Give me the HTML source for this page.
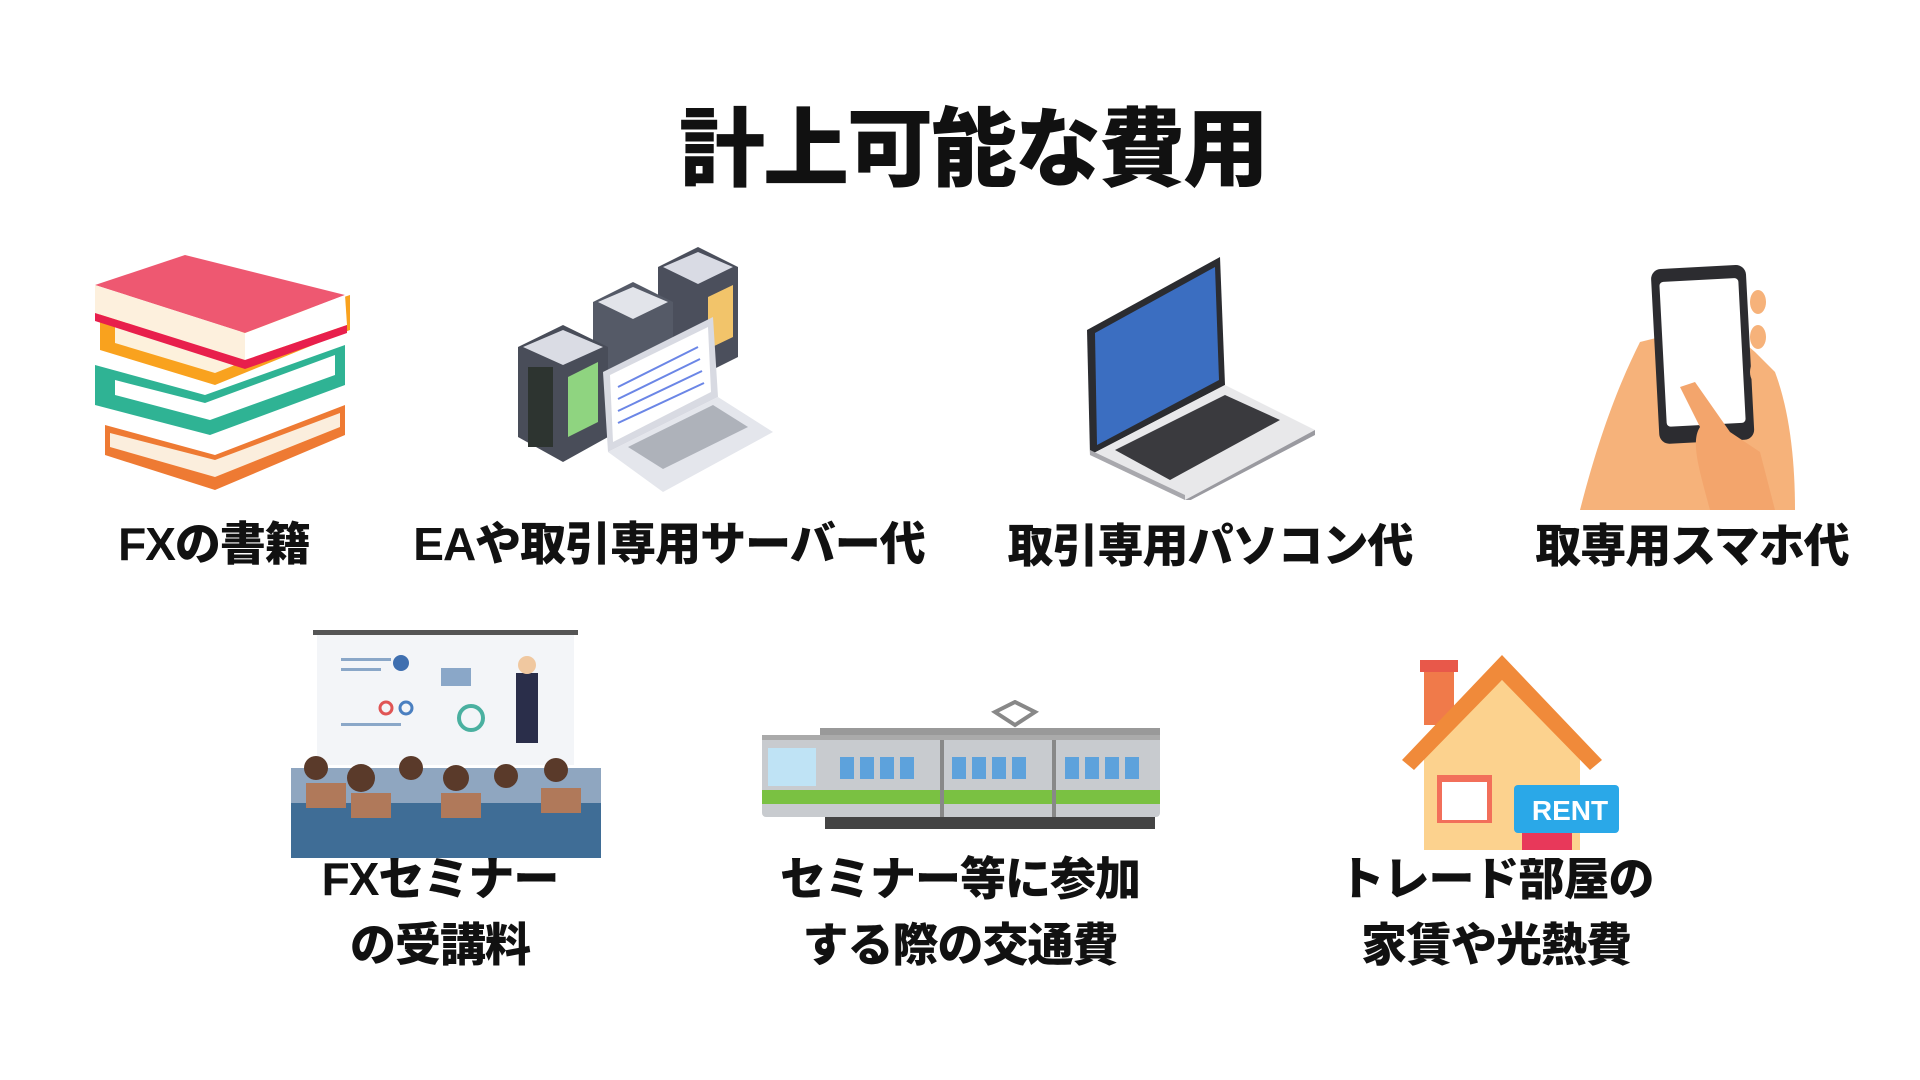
<!DOCTYPE html>
<html><head><meta charset="utf-8"><style>
body{margin:0;width:1920px;height:1080px;background:#fff;position:relative;overflow:hidden;font-family:"Liberation Sans","Noto Sans CJK JP",sans-serif;}
.t{position:absolute;font-weight:900;color:#111;white-space:nowrap;text-align:center;letter-spacing:-1px}
svg{position:absolute}
</style></head><body>
<div class="t" style="left:0;width:1920px;top:95px;font-size:86px;line-height:110px;padding-left:26px;box-sizing:border-box;letter-spacing:-2px">計上可能な費用</div>

<div class="t" style="left:94px;width:240px;top:516px;font-size:46px;line-height:56px">FXの書籍</div>
<div class="t" style="left:404px;width:530px;top:516px;font-size:46px;line-height:56px">EAや取引専用サーバー代</div>
<div class="t" style="left:990px;width:440px;top:518px;font-size:46px;line-height:56px">取引専用パソコン代</div>
<div class="t" style="left:1512px;width:360px;top:518px;font-size:46px;line-height:56px">取専用スマホ代</div>

<div class="t" style="left:280px;width:320px;top:846px;font-size:46px;line-height:66px">FXセミナー<br>の受講料</div>
<div class="t" style="left:750px;width:420px;top:846px;font-size:46px;line-height:66px">セミナー等に参加<br>する際の交通費</div>
<div class="t" style="left:1306px;width:380px;top:846px;font-size:46px;line-height:66px">トレード部屋の<br>家賃や光熱費</div>

<!-- books -->
<svg style="left:95px;top:255px" width="265" height="250" viewBox="0 0 265 250">
<polygon points="10,170 120,200 250,150 250,180 120,235 10,200" fill="#ee7a33"/>
<polygon points="15,178 120,205 245,158 245,172 120,222 15,192" fill="#fbeedd"/>
<polygon points="0,110 110,140 250,90 250,130 115,180 0,150" fill="#2fb394"/>
<polygon points="20,125 110,148 240,100 240,120 115,165 20,140" fill="#fff"/>
<polygon points="5,55 120,85 255,40 255,75 120,130 5,95" fill="#f9a21e"/>
<polygon points="20,65 120,92 245,50 245,68 120,118 20,88" fill="#fdf1dc"/>
<polygon points="0,30 90,0 250,40 150,78" fill="#ee5871"/>
<polygon points="0,30 150,78 150,105 0,58" fill="#fdf0dd"/>
<polygon points="150,78 250,40 252,70 150,105" fill="#fff"/>
<polygon points="0,58 150,105 252,70 252,78 150,114 0,66" fill="#e81f4c"/>
</svg>

<!-- servers -->
<svg style="left:518px;top:247px" width="260" height="255" viewBox="0 0 260 255">
<polygon points="140,20 180,0 220,20 220,110 180,130 140,110" fill="#4b4f5c"/>
<polygon points="145,20 180,5 215,20 180,37" fill="#d9dbe4"/>
<polygon points="75,55 115,35 155,55 155,150 115,170 75,150" fill="#555a67"/>
<polygon points="80,55 115,40 150,55 115,72" fill="#e2e4ea"/>
<polygon points="0,100 45,78 90,100 90,190 45,215 0,190" fill="#494d59"/>
<polygon points="5,100 45,83 85,100 45,118" fill="#dadce4"/>
<rect x="10" y="120" width="25" height="80" fill="#2d3430"/>
<polygon points="50,130 80,115 80,175 50,190" fill="#8fd480"/>
<polygon points="190,50 215,38 215,90 190,102" fill="#f2c46a"/>
<polygon points="85,125 195,70 200,150 90,205" fill="#d8dae2"/>
<polygon points="92,128 190,80 193,145 95,195" fill="#fff"/>
<g stroke="#6b86e6" stroke-width="2"><line x1="100" y1="140" x2="180" y2="100"/><line x1="100" y1="152" x2="182" y2="112"/><line x1="100" y1="164" x2="184" y2="124"/><line x1="100" y1="176" x2="186" y2="136"/></g>
<polygon points="90,205 200,150 255,185 145,245" fill="#e4e6ec"/>
<polygon points="110,200 195,158 230,180 145,222" fill="#8b8f9a" opacity=".6"/>
</svg>

<!-- laptop -->
<svg style="left:1085px;top:255px" width="232" height="245" viewBox="0 0 232 245">
<polygon points="2,75 135,2 140,130 5,200" fill="#2b2c30"/>
<polygon points="10,78 130,12 134,125 12,190" fill="#3b6ec1"/>
<polygon points="5,200 140,130 230,175 100,245" fill="#e8e8ea"/>
<polygon points="30,195 140,140 195,165 85,225" fill="#3a3a3e"/>
<polygon points="5,200 100,245 100,240 5,195" fill="#a8a8ad"/>
<polygon points="100,245 230,175 230,180 100,248" fill="#9a9aa0"/>
</svg>

<!-- phone/hand -->
<svg style="left:1580px;top:262px" width="222" height="250" viewBox="0 0 222 250">
<path d="M60,80 C40,120 20,170 0,248 L215,248 C215,200 210,150 195,110 L175,90 L140,60 Z" fill="#f6b27a"/>
<rect x="75" y="5" width="95" height="175" rx="10" transform="rotate(-3 120 90)" fill="#2c2c30"/>
<rect x="83" y="18" width="79" height="145" rx="4" transform="rotate(-3 120 90)" fill="#fff"/>
<ellipse cx="178" cy="40" rx="8" ry="12" fill="#f6b27a"/><ellipse cx="178" cy="75" rx="8" ry="12" fill="#f6b27a"/><ellipse cx="178" cy="110" rx="8" ry="12" fill="#f6b27a"/>
<path d="M115,120 L150,170 L180,190 L195,248 L130,248 C120,210 110,180 120,165 L100,125 Z" fill="#f3a56c"/>
</svg>

<!-- seminar -->
<svg style="left:291px;top:628px" width="310" height="230" viewBox="0 0 310 230">
<rect x="22" y="2" width="265" height="5" fill="#555"/>
<rect x="26" y="7" width="257" height="130" fill="#f3f5f8"/>
<g fill="#8aa7c8"><rect x="50" y="30" width="50" height="3"/><rect x="50" y="40" width="40" height="3"/><rect x="50" y="95" width="60" height="3"/><rect x="150" y="40" width="30" height="18"/></g>
<circle cx="110" cy="35" r="8" fill="#3f6fb0"/><circle cx="95" cy="80" r="6" fill="none" stroke="#e05555" stroke-width="3"/><circle cx="115" cy="80" r="6" fill="none" stroke="#4a7fc0" stroke-width="3"/><circle cx="180" cy="90" r="12" fill="none" stroke="#4ab0a0" stroke-width="4"/>
<rect x="225" y="45" width="22" height="70" fill="#2a2e4a"/><circle cx="236" cy="37" r="9" fill="#f0c8a0"/>
<rect x="0" y="140" width="310" height="90" fill="#8fa6c0"/>
<g fill="#5a3a2a"><circle cx="25" cy="140" r="12"/><circle cx="70" cy="150" r="14"/><circle cx="120" cy="140" r="12"/><circle cx="165" cy="150" r="13"/><circle cx="215" cy="148" r="12"/><circle cx="265" cy="142" r="12"/></g>
<rect x="0" y="175" width="310" height="55" fill="#3f6d96"/>
<g fill="#b0795a"><rect x="15" y="155" width="40" height="25"/><rect x="60" y="165" width="40" height="25"/><rect x="150" y="165" width="40" height="25"/><rect x="250" y="160" width="40" height="25"/></g>
</svg>

<!-- train -->
<svg style="left:760px;top:700px" width="402" height="130" viewBox="0 0 402 130">
<polygon points="235,12 255,2 275,12 255,25" fill="none" stroke="#888" stroke-width="4"/>
<rect x="60" y="28" width="340" height="8" fill="#999"/>
<rect x="2" y="35" width="398" height="82" rx="4" fill="#c8cbcf"/>
<rect x="2" y="35" width="398" height="5" fill="#aaa"/>
<rect x="8" y="48" width="48" height="38" fill="#bfe3f5"/>
<g fill="#5da2dc"><rect x="80" y="57" width="14" height="22"/><rect x="100" y="57" width="14" height="22"/><rect x="120" y="57" width="14" height="22"/><rect x="140" y="57" width="14" height="22"/><rect x="192" y="57" width="14" height="22"/><rect x="212" y="57" width="14" height="22"/><rect x="232" y="57" width="14" height="22"/><rect x="252" y="57" width="14" height="22"/><rect x="305" y="57" width="14" height="22"/><rect x="325" y="57" width="14" height="22"/><rect x="345" y="57" width="14" height="22"/><rect x="365" y="57" width="14" height="22"/></g>
<rect x="2" y="90" width="398" height="14" fill="#7ac142"/>
<rect x="180" y="40" width="4" height="78" fill="#888"/><rect x="292" y="40" width="4" height="78" fill="#888"/>
<rect x="65" y="117" width="330" height="12" fill="#444"/>
</svg>

<!-- house -->
<svg style="left:1402px;top:650px" width="225" height="208" viewBox="0 0 225 208">
<rect x="22" y="15" width="30" height="60" fill="#f07a4a"/><rect x="18" y="10" width="38" height="12" fill="#e8584a"/>
<polygon points="22,208 22,105 100,30 178,105 178,208" fill="#fcd28e"/>
<polygon points="0,110 100,5 200,110 188,120 100,30 12,120" fill="#f08a3a"/>
<rect x="35" y="125" width="55" height="48" fill="#f26f5a"/><rect x="40" y="132" width="45" height="38" fill="#fff"/>
<rect x="120" y="135" width="50" height="73" fill="#e8385a"/>
<rect x="132" y="135" width="105" height="48" rx="4" fill="#2aa8e8" transform="translate(-20 0)"/>
<text x="168" y="170" font-family="Liberation Sans, sans-serif" font-weight="900" font-size="28" fill="#fff" text-anchor="middle">RENT</text>
<rect x="0" y="200" width="225" height="8" fill="#fff"/>
</svg>
</body></html>
